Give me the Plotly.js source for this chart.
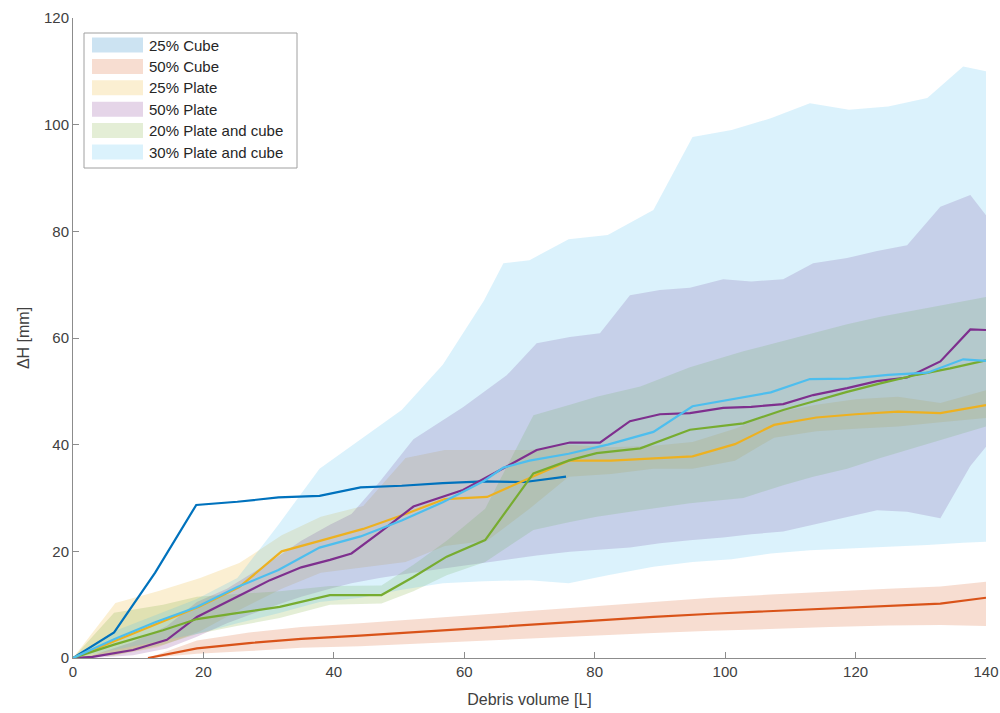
<!DOCTYPE html>
<html>
<head>
<meta charset="utf-8">
<script src="https://cdn.plot.ly/plotly-3.0.1.min.js"></script>
<style>html,body{margin:0;padding:0;background:#fff;}#chart{width:1000px;height:713px;}</style>
</head>
<body>
<div id="chart"></div>
<script>
// ---- Data ----
const seriesNames = ["25% Cube", "50% Cube", "25% Plate", "50% Plate", "20% Plate and cube", "30% Plate and cube"];
const seriesColors = ["#0072BD", "#D95319", "#EDB120", "#7E2F8E", "#77AC30", "#4DBEEE"];

// 25% Cube
const cube25_x    = [0, 6.3, 12.6, 18.9, 25.2, 31.5, 37.8, 44.1, 50.4, 56.7, 63, 69.3, 75.6];
const cube25_mean = [0, 4.8, 16.0, 28.7, 29.3, 30.1, 30.4, 32.0, 32.3, 32.8, 33.1, 33.0, 34.0];
const cube25_hi   = [0, 4.9, 16.1, 28.8, 29.4, 30.2, 30.5, 32.1, 32.4, 32.9, 33.2, 33.1, 34.1];
const cube25_lo   = [0, 4.7, 15.9, 28.6, 29.2, 30.0, 30.3, 31.9, 32.2, 32.7, 33.0, 32.9, 33.9];

// 50% Cube
const cube50_x    = [11.5, 19, 27, 35, 44, 53, 62, 71, 80, 89, 98, 107, 116, 125, 133, 140];
const cube50_mean = [0, 1.8, 2.8, 3.6, 4.2, 4.9, 5.7, 6.4, 7.1, 7.7, 8.3, 8.8, 9.2, 9.7, 10.2, 11.3];
const cube50_hi   = [0, 3.3, 4.8, 5.8, 6.5, 7.3, 8.2, 9.0, 9.8, 10.6, 11.3, 11.9, 12.5, 13.0, 13.4, 14.3];
const cube50_lo   = [0, 0.8, 1.3, 1.9, 2.2, 2.7, 3.3, 3.8, 4.3, 4.7, 5.1, 5.5, 5.8, 6.1, 6.2, 6.0];

// 25% Plate
const plate25_x    = [0, 6.5, 13, 19.5, 25.5, 32, 38, 44.5, 51, 57, 63.5, 70, 76, 82.5, 89, 95, 101.5, 107.5, 114, 120, 126.5, 133, 140];
const plate25_mean = [0, 3.2, 6.5, 9.7, 13.3, 20.0, 22.0, 24.2, 27.0, 29.8, 30.2, 33.8, 37.0, 37.0, 37.4, 37.8, 40.1, 43.7, 45.1, 45.7, 46.2, 45.9, 47.4];
const plate25_hi   = [0, 10.3, 12.5, 15.0, 17.8, 23.0, 26.5, 28.5, 37.5, 39.0, 39.0, 39.0, 40.0, 39.5, 39.8, 40.5, 43.0, 46.0, 47.5, 48.5, 49.0, 47.8, 50.2];
const plate25_lo   = [0, 0.5, 2.0, 5.0, 9.0, 13.0, 16.0, 17.0, 18.0, 21.0, 22.0, 28.0, 34.0, 34.5, 35.5, 35.5, 37.0, 41.3, 42.5, 43.0, 43.4, 44.2, 45.0];

// 50% Plate
const plate50_x    = [0, 3, 9.2, 14.4, 19, 23.6, 30.2, 35, 39.4, 42.7, 47, 52.2, 59.8, 66.5, 71.1, 76.2, 80.8, 85.4, 90, 94.6, 99.7, 104, 108.9, 113.5, 118.7, 123.3, 127.9, 133, 137.6, 140];
const plate50_mean = [0, 0.2, 1.5, 3.4, 7.7, 10.6, 14.6, 17.0, 18.4, 19.6, 23.5, 28.4, 31.5, 35.9, 39.0, 40.4, 40.4, 44.4, 45.7, 45.9, 46.9, 47.1, 47.6, 49.3, 50.6, 51.9, 52.6, 55.6, 61.6, 61.5];
const plate50_hi   = [0, 0.5, 3.0, 6.0, 10.5, 13.0, 18.0, 22.0, 25.0, 27.0, 33.0, 41.0, 47.0, 53.0, 59.0, 60.2, 60.9, 68.0, 69.0, 69.4, 71.0, 70.6, 71.0, 74.0, 75.0, 76.3, 77.4, 84.6, 86.8, 83.0];
const plate50_lo   = [0, 0, 0.5, 1.8, 4.0, 6.5, 9.5, 11.5, 13.0, 14.0, 15.0, 16.0, 17.3, 18.5, 19.2, 19.9, 20.3, 20.7, 21.5, 22.1, 22.6, 23.2, 23.7, 25.0, 26.4, 27.7, 27.4, 26.2, 36.0, 39.6];

// 20% Plate and cube
const mix20_x    = [0, 6.3, 13.8, 19, 25.1, 31.7, 39.4, 47.3, 52.2, 57.3, 63.2, 70.6, 76.2, 80.3, 87, 94.6, 102.8, 108.9, 113.5, 118.7, 123.8, 129.4, 134.5, 140];
const mix20_mean = [0, 2.5, 5.2, 7.3, 8.4, 9.6, 11.8, 11.8, 15.2, 19.0, 22.1, 34.6, 37.1, 38.4, 39.3, 42.8, 44.0, 46.5, 48.1, 49.9, 51.5, 53.1, 54.3, 55.8];
const mix20_hi   = [0, 8.5, 10.0, 11.5, 12.0, 12.5, 13.5, 13.6, 17.5, 22.0, 28.0, 45.5, 47.5, 49.0, 50.9, 54.5, 57.5, 59.5, 61.0, 62.6, 64.0, 65.3, 66.5, 67.7];
const mix20_lo   = [0, 0.5, 2.5, 4.5, 6.0, 7.5, 10.0, 10.2, 12.5, 15.5, 18.0, 24.0, 25.5, 26.5, 27.7, 29.0, 30.0, 32.4, 34.0, 35.5, 37.5, 39.5, 41.3, 43.4];

// 30% Plate and cube
const mix30_x    = [0, 6.3, 12.6, 18.9, 25.2, 31.5, 37.8, 44.1, 50.4, 56.7, 63, 66, 70, 76, 82, 89, 95, 101, 107, 113, 119, 125, 131, 136.5, 140];
const mix30_mean = [0, 3.5, 6.7, 9.5, 13.3, 16.5, 20.7, 22.8, 25.8, 29.2, 33.2, 35.7, 37.0, 38.3, 40.0, 42.4, 47.2, 48.5, 49.8, 52.3, 52.4, 53.1, 53.5, 56.0, 55.7];
const mix30_hi   = [0, 5.0, 8.0, 11.0, 15.0, 25.0, 35.5, 41.0, 46.5, 55.0, 67.0, 74.0, 74.6, 78.5, 79.3, 84.0, 97.7, 99.0, 101.2, 104.0, 102.8, 103.4, 105.0, 110.9, 110.0];
const mix30_lo   = [0, 1.5, 3.0, 4.5, 6.5, 8.4, 10.5, 11.3, 12.8, 14.0, 14.4, 14.5, 14.6, 14.0, 15.5, 17.1, 18.0, 18.5, 19.6, 20.2, 20.5, 20.8, 21.2, 21.6, 21.8];

const xTicks = [0, 20, 40, 60, 80, 100, 120, 140];
const yTicks = [0, 20, 40, 60, 80, 100, 120];

// ---- Build traces ----
const groups = [
  [cube25_x, cube25_mean, cube25_hi, cube25_lo],
  [cube50_x, cube50_mean, cube50_hi, cube50_lo],
  [plate25_x, plate25_mean, plate25_hi, plate25_lo],
  [plate50_x, plate50_mean, plate50_hi, plate50_lo],
  [mix20_x, mix20_mean, mix20_hi, mix20_lo],
  [mix30_x, mix30_mean, mix30_hi, mix30_lo]
];

function rgba(hex, a) {
  const r = parseInt(hex.slice(1,3),16), g = parseInt(hex.slice(3,5),16), b = parseInt(hex.slice(5,7),16);
  return `rgba(${r},${g},${b},${a})`;
}

const traces = [];
groups.forEach((g, i) => {
  traces.push({x: g[0], y: g[3], type: 'scatter', mode: 'lines', line: {width: 0, color: rgba(seriesColors[i], 0)}, showlegend: false, hoverinfo: 'skip'});
  traces.push({x: g[0], y: g[2], type: 'scatter', mode: 'lines', fill: 'tonexty', fillcolor: rgba(seriesColors[i], 0.2),
    line: {width: 0, color: rgba(seriesColors[i], 0)}, name: seriesNames[i], showlegend: false, hoverinfo: 'skip'});
});
groups.forEach((g, i) => {
  traces.push({x: g[0], y: g[1], type: 'scatter', mode: 'lines', line: {width: 2.2, color: seriesColors[i]}, showlegend: false, hoverinfo: 'skip'});
});

// ---- Custom legend box (MATLAB-style patches), placed in paper coordinates ----
const plotL = 73, plotR = 986, plotT = 18, plotB = 658;
const px2x = p => (p - plotL) / (plotR - plotL);
const py2y = p => (plotB - p) / (plotB - plotT);
const shapes = [{type: 'rect', xref: 'paper', yref: 'paper', x0: px2x(84), x1: px2x(297), y0: py2y(168), y1: py2y(33),
  fillcolor: '#ffffff', line: {color: '#a0a0a0', width: 1}, layer: 'above'}];
const annotations = [];
seriesNames.forEach((name, i) => {
  const cy = 45 + 21.4 * i;
  shapes.push({type: 'rect', xref: 'paper', yref: 'paper', x0: px2x(92), x1: px2x(143), y0: py2y(cy + 7.5), y1: py2y(cy - 7.5),
    fillcolor: rgba(seriesColors[i], 0.2), line: {width: 0}, layer: 'above'});
  annotations.push({xref: 'paper', yref: 'paper', x: px2x(147), y: py2y(cy), xanchor: 'left', yanchor: 'middle', showarrow: false,
    text: name, font: {family: 'Liberation Sans, Arial, sans-serif', size: 15, color: '#262626'}});
});

const axisCommon = {
  showgrid: false, zeroline: false, showline: true, linecolor: '#8c8c8c', linewidth: 1,
  ticks: 'inside', ticklen: 6, tickcolor: '#8c8c8c', tickwidth: 1,
  tickfont: {family: 'Liberation Sans, Arial, sans-serif', size: 15, color: '#404040'}
};

const layout = {
  width: 1000, height: 713,
  margin: {l: plotL, r: 1000 - plotR, t: plotT, b: 713 - plotB},
  paper_bgcolor: '#fff', plot_bgcolor: '#fff',
  font: {family: 'Liberation Sans, Arial, sans-serif', color: '#404040'},
  xaxis: Object.assign({}, axisCommon, {range: [0, 140], tickvals: xTicks, ticktext: xTicks.map(String),
    title: {text: 'Debris volume [L]', font: {size: 16, color: '#404040'}, standoff: 14}}),
  yaxis: Object.assign({}, axisCommon, {range: [0, 120], tickvals: yTicks, ticktext: yTicks.map(String),
    title: {text: 'ΔH [mm]', font: {size: 16, color: '#404040'}, standoff: 10}}),
  shapes: shapes,
  annotations: annotations,
  showlegend: false,
  hovermode: false
};

Plotly.newPlot('chart', traces, layout, {displayModeBar: false, staticPlot: true});
</script>
</body>
</html>
